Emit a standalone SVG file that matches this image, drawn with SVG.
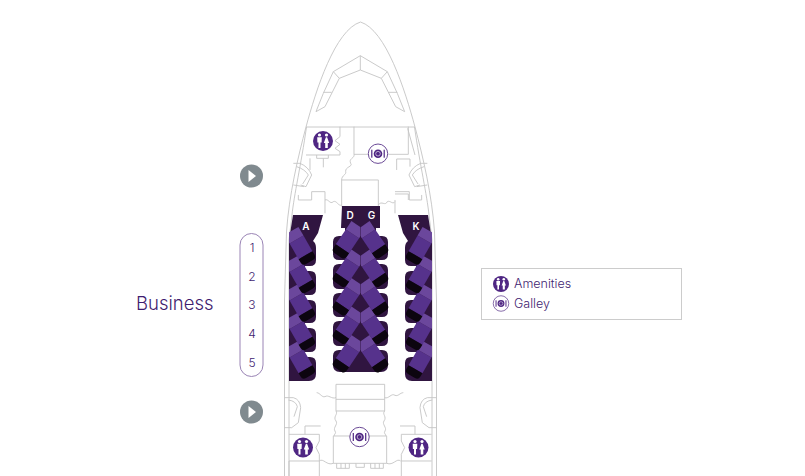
<svg xmlns="http://www.w3.org/2000/svg" width="805" height="476" viewBox="0 0 805 476">
<style>
.l{fill:none;stroke:#c4c4c4;stroke-width:.9}
.ln{fill:none;stroke:#c4c4c4;stroke-width:2.700}
.dark{fill:#301540}
.t{font-family:"Inter","Open Sans","Liberation Sans",sans-serif;fill:#3f1d70;font-weight:300}
.sl{font-family:"Inter","Liberation Sans",sans-serif;font-weight:600;font-size:10px;fill:#fff;text-anchor:middle}
.n{font-size:12px;text-anchor:middle}
</style>
<defs>
<g id="seat">
<path d="M-8 -8H8V10H-8Z" fill="#56328c"/>
<path d="M-8 -18H8V-8H-8Z" fill="#6b479c"/>
<path d="M-8 10H8V14Q8 18 4 18H-4Q-8 18 -8 14Z" fill="#0c050f"/>
</g>
<g id="amen">
<circle r="10" fill="#4f2683"/>
<g fill="#fff">
<circle cx="-3.500" cy="-6" r="1.600"/><circle cx="3.500" cy="-6" r="1.600"/>
<path d="M-5.800 -3.800H-1.200L-1.400 1.500H-2.500V7H-4.500V1.500H-5.600Z"/>
<path d="M2.900 -3.800H4.100L6.200 2H4.800V7H2.200V2H.8Z"/>
</g>
</g>
<g id="gal">
<circle r="9.700" fill="#fff" stroke="#6b4a96" stroke-width="1"/>
<circle r="4.300" fill="#4f2683"/>
<circle r="2.300" fill="#4f2683" stroke="#fff" stroke-width=".6"/>
<rect x="-6.800" y="-4" width="1.200" height="8" fill="#4f2683"/>
<rect x="5.600" y="-4" width="1.200" height="8" fill="#4f2683"/>
</g>
<g id="exit">
<circle r="11.500" fill="#808a8f"/>
<path d="M-3 -6L4.500 0L-3 6Z" fill="#fff"/>
</g>
<path id="side-block" class="dark" d="M293 215H323L318 233L313 241Q316 243 316 248V260Q316 266 310 266H305V271H310Q316 271 316 277V289Q316 295 310 295H305V300H310Q316 300 316 306V317Q316 323 310 323H305V328H310Q316 328 316 334V346Q316 352 310 352H305V357H310Q316 357 316 363V374Q316 381 309 381H289V240Z"/>
</defs>

<g id="fuselage">
<path class="l" d="M360.500 22C335 30 316 90 306 127C298 157 289 195 286.500 232L284.500 300V476"/>
<path class="l" d="M360.500 22C386 30 405 90 415 127C423 157 432 195 434.500 232L436.500 300V476"/>
<path class="l" d="M306.500 127C301 165 294 195 292 215L289 240V476"/>
<path class="l" d="M414.500 127C420 165 427 195 429 215L432 240V476"/>
<path class="l" d="M306 127H415"/>
</g>

<g id="cockpit" transform="translate(280 10) scale(.3333)">
<path class="ln" d="M241 137L160 185L178 205L241 180L304 205L322 185L241 137ZM241 137V180"/>
<path class="ln" d="M160 185L130 250L108 305L135 290L178 205M130 247H155"/>
<path class="ln" d="M322 185L352 250L374 305L347 290L304 205M352 247H327"/>
</g>

<g id="forward-cabin" transform="translate(280 10) scale(.3333)">
<path class="ln" d="M180 350V380L165 392L180 403L165 415L180 425V435H78M110 435V445H145V435M90 445V480M130 445V472"/>
<path class="ln" d="M222 350V433H265M325 433H385V350M383 355L405 435"/>
<path class="ln" d="M222 433C225 445 205 445 212 460C220 470 195 470 197 485C200 495 185 495 185 510"/>
<path class="ln" d="M185 510H295V590M185 510V590"/>
<path class="ln" d="M135 570C145 565 150 585 160 575C170 570 175 590 185 585M295 585C305 570 315 590 322 575C330 570 338 585 345 575"/>
<path class="ln" d="M40 460H60Q85 470 95 495L78 530L62 525M50 470Q75 478 85 495L68 522M40 525L72 530"/>
<path class="ln" d="M442 460H422Q397 470 387 495L404 530L420 525M432 470Q407 478 397 495L414 522M442 525L410 530"/>
<path class="ln" d="M95 545H135V610M95 545V570H55V555"/>
<path class="ln" d="M345 545H388V570H425V555M345 570V610M345 552H385V570"/>
<path class="ln" d="M350 480V447H390V470"/>
</g>

<g id="rear-cabin" transform="translate(280 376) scale(.3333)">
<path class="ln" d="M168 25H314V105H168ZM168 70H314"/>
<path class="ln" d="M110 50C120 50 125 65 135 62C145 55 155 70 168 65M314 65C325 70 335 50 345 58C355 62 360 50 370 50"/>
<path class="ln" d="M168 105C175 115 158 122 168 135C175 145 158 155 165 165C170 172 162 175 162 180M314 105C305 115 322 122 312 135C305 145 322 155 315 165C310 172 318 175 318 180"/>
<path class="ln" d="M160 180H320V262H160Z"/>
<path class="ln" d="M170 262V277H208V262M183 262V277M196 262V277M228 262V274H253V262M272 262V277H310V262M285 262V277M298 262V277"/>
<path class="ln" d="M118 255C130 245 140 270 160 262M320 262C340 270 350 245 362 255"/>
<path class="ln" d="M13 65H40Q60 70 62 95L55 140L35 155H13M25 72Q48 75 52 92L42 122"/>
<path class="ln" d="M469 65H442Q422 70 420 95L427 140L447 155H469M457 72Q434 75 430 92L440 122"/>
<path class="ln" d="M75 175V150H122M27 175H118V195L108 215L118 235V255H27M27 255V300M118 255V300"/>
<path class="ln" d="M405 175V150H360M455 175H364V195L374 215L364 235V255H455M364 255V300"/>
</g>

<g id="seat-block-left"><use href="#side-block"/></g>
<g id="seat-block-centre">
<path class="dark" d="M342 206H380V228H376V236H382Q388 236 388 242V254Q388 260 382 260H376V264H382Q388 264 388 270V283Q388 289 382 289H376V293H382Q388 293 388 299V311Q388 317 382 317H376V321H382Q388 321 388 327V340Q388 346 382 346H376V350H382Q388 350 388 356V365Q388 372 381 372H340Q333 372 333 365V356Q333 350 339 350H345V346H339Q333 346 333 340V327Q333 321 339 321H345V317H339Q333 317 333 311V299Q333 293 339 293H345V289H339Q333 289 333 283V270Q333 264 339 264H345V260H339Q333 260 333 254V242Q333 236 339 236H345V228H341Z"/>
</g>
<g id="seat-block-right" transform="translate(721 0) scale(-1 1)"><use href="#side-block"/></g>

<clipPath id="cl"><rect x="289" y="205" width="143" height="180"/></clipPath>
<clipPath id="cd"><rect x="289" y="205" width="71.500" height="180"/></clipPath>
<clipPath id="cg"><rect x="361" y="205" width="71" height="180"/></clipPath>
<g id="seats-a" clip-path="url(#cl)">
<use href="#seat" transform="translate(300.500 360.500) rotate(-30)"/>
<use href="#seat" transform="translate(300.500 332) rotate(-30)"/>
<use href="#seat" transform="translate(300.500 303.500) rotate(-30)"/>
<use href="#seat" transform="translate(300.500 275) rotate(-30)"/>
<use href="#seat" transform="translate(300.500 246.500) rotate(-30)"/>
</g>
<g id="seats-d" clip-path="url(#cd)">
<use href="#seat" transform="translate(348 354.500) rotate(34)"/>
<use href="#seat" transform="translate(348 326) rotate(34)"/>
<use href="#seat" transform="translate(348 297.500) rotate(34)"/>
<use href="#seat" transform="translate(348 269) rotate(34)"/>
<use href="#seat" transform="translate(348 240.500) rotate(34)"/>
</g>
<g id="seats-g" clip-path="url(#cg)">
<use href="#seat" transform="translate(373 354.500) rotate(-34)"/>
<use href="#seat" transform="translate(373 326) rotate(-34)"/>
<use href="#seat" transform="translate(373 297.500) rotate(-34)"/>
<use href="#seat" transform="translate(373 269) rotate(-34)"/>
<use href="#seat" transform="translate(373 240.500) rotate(-34)"/>
</g>
<g id="seats-k" clip-path="url(#cl)">
<use href="#seat" transform="translate(420.500 360.500) rotate(30)"/>
<use href="#seat" transform="translate(420.500 332) rotate(30)"/>
<use href="#seat" transform="translate(420.500 303.500) rotate(30)"/>
<use href="#seat" transform="translate(420.500 275) rotate(30)"/>
<use href="#seat" transform="translate(420.500 246.500) rotate(30)"/>
</g>

<g id="seat-letters">
<text class="sl" x="306" y="229.500">A</text>
<text class="sl" x="350" y="218.500">D</text>
<text class="sl" x="371.500" y="218.500">G</text>
<text class="sl" x="416" y="229.500">K</text>
</g>

<g id="icons-cabin">
<use href="#amen" x="323" y="141"/>
<use href="#gal" x="378" y="153.700"/>
<use href="#gal" x="359.500" y="437"/>
<use href="#amen" x="303" y="447.500"/>
<use href="#amen" x="418.500" y="447.500"/>
</g>

<g id="exit-front"><use href="#exit" x="251.500" y="176"/></g>
<g id="exit-rear"><use href="#exit" x="251.500" y="412"/></g>

<g id="row-numbers">
<rect x="240" y="233.500" width="23" height="143" rx="11.500" fill="none" stroke="#9a84b5" stroke-width="1"/>
<text class="t n" x="252" y="252">1</text>
<text class="t n" x="252" y="281">2</text>
<text class="t n" x="252" y="309">3</text>
<text class="t n" x="252" y="338">4</text>
<text class="t n" x="252" y="367">5</text>
</g>
<g id="cabin-label"><text class="t" x="136" y="310" font-size="18.500">Business</text></g>

<g id="legend">
<rect x="481.500" y="268.500" width="200" height="51" fill="#fff" stroke="#cccccc"/>
<g transform="translate(501 284) scale(.8)"><use href="#amen"/></g>
<g transform="translate(501 303.500) scale(.8)"><use href="#gal"/></g>
<text class="t" x="514" y="288" font-size="12.500">Amenities</text>
<text class="t" x="514" y="308" font-size="12.500">Galley</text>
</g>
</svg>
